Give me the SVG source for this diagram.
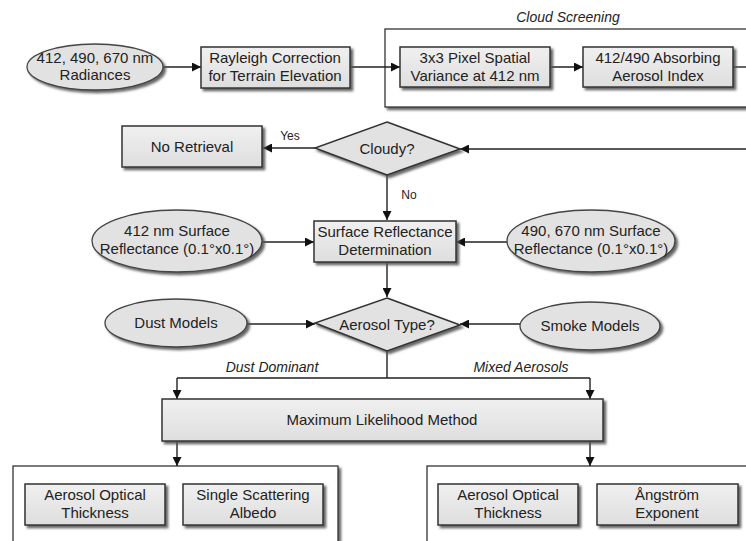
<svg xmlns="http://www.w3.org/2000/svg" width="746" height="541" viewBox="0 0 746 541">
<defs>
<filter id="sh" x="-10%" y="-10%" width="130%" height="140%">
<feDropShadow dx="2.5" dy="2.5" stdDeviation="0.8" flood-color="#555" flood-opacity="0.9"/>
</filter>
<linearGradient id="bg" x1="0" y1="0" x2="0" y2="1">
<stop offset="0" stop-color="#f0f0f0"/>
<stop offset="1" stop-color="#dedede"/>
</linearGradient>
<marker id="ah" viewBox="0 0 10 10" refX="10" refY="5" markerWidth="9" markerHeight="9" markerUnits="userSpaceOnUse" orient="auto">
<path d="M0,0 L10,5 L0,10 z" fill="#111"/>
</marker>
</defs>
<style>
.box{fill:url(#bg);stroke:#333;stroke-width:1.5;filter:url(#sh)}
.ell{fill:#e2e2e2;stroke:#444;stroke-width:1.3;filter:url(#sh)}
.frame{fill:#fff;stroke:#333;stroke-width:1.3;filter:url(#sh)}
.dia{fill:#e2e2e2;stroke:#333;stroke-width:1.5;filter:url(#sh)}
text{font-family:"Liberation Sans",Arial,sans-serif;font-size:15px;fill:#222;text-anchor:middle}
.it{font-style:italic;font-size:14px}
.sm{font-size:12px}
.c line,.c path{stroke:#222;stroke-width:1.4;fill:none}
.a{marker-end:url(#ah)}
</style>
<rect width="746" height="541" fill="#fff"/>

<g id="cloud-screening">
<rect class="frame" x="385" y="29" width="380" height="78"/>
<text class="it" x="568" y="22">Cloud Screening</text>
</g>
<g id="bottom-left-frame"><rect class="frame" x="13" y="466" width="325" height="90"/></g>
<g id="bottom-right-frame"><rect class="frame" x="427" y="466" width="340" height="90"/></g>

<g class="c" id="connectors">
<line class="a" x1="163" y1="67" x2="201" y2="67"/>
<line class="a" x1="350" y1="67" x2="400" y2="67"/>
<line class="a" x1="550" y1="67" x2="583" y2="67"/>
<line x1="733" y1="67" x2="746" y2="67"/>
<line class="a" x1="746" y1="149" x2="460" y2="149"/>
<line class="a" x1="315" y1="148" x2="263" y2="148"/>
<line class="a" x1="387" y1="175" x2="387" y2="220"/>
<line class="a" x1="262" y1="242" x2="314" y2="242"/>
<line class="a" x1="507" y1="242" x2="456" y2="242"/>
<line class="a" x1="387" y1="262" x2="387" y2="297"/>
<line class="a" x1="247" y1="324" x2="315" y2="324"/>
<line class="a" x1="520" y1="324" x2="460" y2="324"/>
<path d="M387,351 V378 M177,378 H590"/>
<line class="a" x1="177" y1="378" x2="177" y2="399"/>
<line class="a" x1="590" y1="378" x2="590" y2="399"/>
<line class="a" x1="177" y1="441" x2="177" y2="466"/>
<line class="a" x1="590" y1="441" x2="590" y2="466"/>
<text class="sm" x="290" y="140">Yes</text>
<text class="sm" x="409" y="199">No</text>
<text class="it" x="272" y="372">Dust Dominant</text>
<text class="it" x="521" y="372">Mixed Aerosols</text>
</g>

<g id="radiances">
<ellipse class="ell" cx="95" cy="67" rx="68" ry="23"/>
<text x="95" y="63">412, 490, 670 nm</text>
<text x="95" y="80">Radiances</text>
</g>
<g id="rayleigh">
<rect class="box" x="201" y="47" width="149" height="41"/>
<text x="275" y="63">Rayleigh Correction</text>
<text x="275" y="81">for Terrain Elevation</text>
</g>
<g id="variance">
<rect class="box" x="400" y="47" width="150" height="40"/>
<text x="475" y="63">3x3 Pixel Spatial</text>
<text x="475" y="81">Variance at 412 nm</text>
</g>
<g id="aai">
<rect class="box" x="583" y="47" width="150" height="40"/>
<text x="658" y="63">412/490 Absorbing</text>
<text x="658" y="81">Aerosol Index</text>
</g>
<g id="no-retrieval">
<rect class="box" x="122" y="126" width="140" height="41"/>
<text x="192" y="152">No Retrieval</text>
</g>
<g id="cloudy">
<polygon class="dia" points="387,122 460,149 387,175 315,148"/>
<text x="387" y="154">Cloudy?</text>
</g>
<g id="surface-412">
<ellipse class="ell" cx="177" cy="241" rx="85" ry="31"/>
<text x="177" y="236">412 nm Surface</text>
<text x="177" y="254">Reflectance (0.1°x0.1°)</text>
</g>
<g id="surface-det">
<rect class="box" x="314" y="221" width="142" height="41"/>
<text x="385" y="237">Surface Reflectance</text>
<text x="385" y="255">Determination</text>
</g>
<g id="surface-490">
<ellipse class="ell" cx="591" cy="241" rx="84" ry="31"/>
<text x="591" y="236">490, 670 nm Surface</text>
<text x="591" y="254">Reflectance (0.1°x0.1°)</text>
</g>
<g id="dust">
<ellipse class="ell" cx="176" cy="323" rx="71" ry="24"/>
<text x="176" y="328">Dust Models</text>
</g>
<g id="aerosol-type">
<polygon class="dia" points="387,298 460,325 387,351 315,323"/>
<text x="387" y="330">Aerosol Type?</text>
</g>
<g id="smoke">
<ellipse class="ell" cx="590" cy="326" rx="70" ry="24"/>
<text x="590" y="331">Smoke Models</text>
</g>
<g id="mlm">
<rect class="box" x="162" y="399" width="441" height="42"/>
<text x="382" y="425">Maximum Likelihood Method</text>
</g>
<g id="aot-left">
<rect class="box" x="25" y="484" width="140" height="41"/>
<text x="95" y="500">Aerosol Optical</text>
<text x="95" y="518">Thickness</text>
</g>
<g id="ssa">
<rect class="box" x="183" y="484" width="140" height="41"/>
<text x="253" y="500">Single Scattering</text>
<text x="253" y="518">Albedo</text>
</g>
<g id="aot-right">
<rect class="box" x="438" y="484" width="140" height="41"/>
<text x="508" y="500">Aerosol Optical</text>
<text x="508" y="518">Thickness</text>
</g>
<g id="angstrom">
<rect class="box" x="597" y="484" width="141" height="41"/>
<text x="667" y="500">Ångström</text>
<text x="667" y="518">Exponent</text>
</g>
</svg>
